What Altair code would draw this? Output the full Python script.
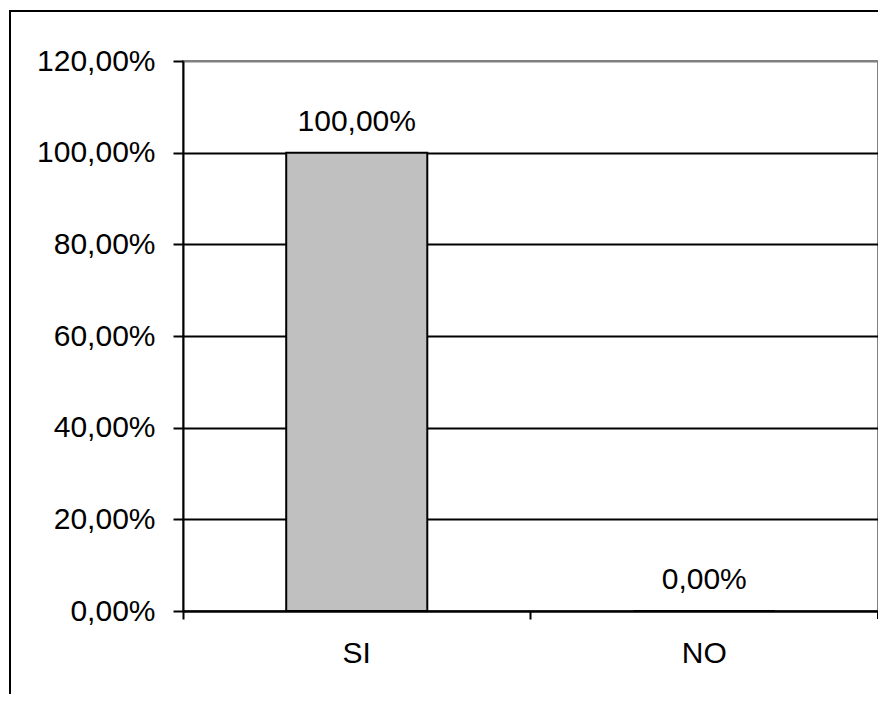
import altair as alt
import pandas as pd

categories = ["SI", "NO"]
values = [1.0, 0.0]
y_ticks = [0.0, 0.2, 0.4, 0.6, 0.8, 1.0, 1.2]

df = pd.DataFrame({"cat": categories, "val": values})

FONT = "Liberation Sans"
FS = 30
W, H = 695, 550

x_enc = alt.X(
    "cat:N",
    sort=categories,
    title=None,
    scale=alt.Scale(paddingInner=0, paddingOuter=0),
    axis=alt.Axis(
        labelAngle=0,
        bandPosition=0,
        domainColor="black",
        domainWidth=2,
        tickColor="black",
        tickWidth=2,
        tickSize=8,
        labelFont=FONT,
        labelFontSize=FS,
        labelColor="black",
        labelPadding=19,
        labelBaseline="top",
        grid=False,
    ),
)

y_enc = alt.Y(
    "val:Q",
    title=None,
    scale=alt.Scale(domain=[0, 1.2], nice=False),
    axis=alt.Axis(
        values=y_ticks,
        labelExpr="replace(format(datum.value, '.2%'), '.', ',')",
        domainColor="black",
        domainWidth=2,
        tickColor="black",
        tickWidth=2,
        tickSize=10,
        labelFont=FONT,
        labelFontSize=FS,
        labelColor="black",
        labelPadding=18,
        grid=True,
        gridColor=alt.condition("datum.value >= 1.2", alt.value("#808080"), alt.value("black")),
        gridWidth=2,
    ),
)

base = alt.Chart(df)

bars = base.mark_bar(
    fill="#C0C0C0", stroke="black", strokeWidth=2, width=alt.RelativeBandSize(0.406)
).encode(x=x_enc, y=y_enc)

labels = base.transform_calculate(
    lab="replace(format(datum.val, '.2%'), '.', ',')"
).mark_text(
    font=FONT, fontSize=FS, color="black", baseline="alphabetic", dy=-22
).encode(x=alt.X("cat:N", sort=categories), y="val:Q", text="lab:N")

right_tick = base.mark_rule(color="black", strokeWidth=2).encode(
    x=alt.value(W), y=alt.value(H), y2=alt.value(H + 8)
)

frame = base.mark_rect(fill=None, stroke="black", strokeWidth=2, clip=False).encode(
    x=alt.value(-173), y=alt.value(-50), x2=alt.value(W + 400), y2=alt.value(H + 400)
)

chart = alt.layer(frame, bars, labels, right_tick).properties(
    width=W,
    height=H,
    autosize=alt.AutoSizeParams(type="none"),
    padding={"left": 175, "top": 53, "right": 0, "bottom": 83},
    background="white",
).configure_view(stroke="#808080", strokeWidth=2)

chart.save("out.html", embed_options={"renderer": "svg", "actions": False})
